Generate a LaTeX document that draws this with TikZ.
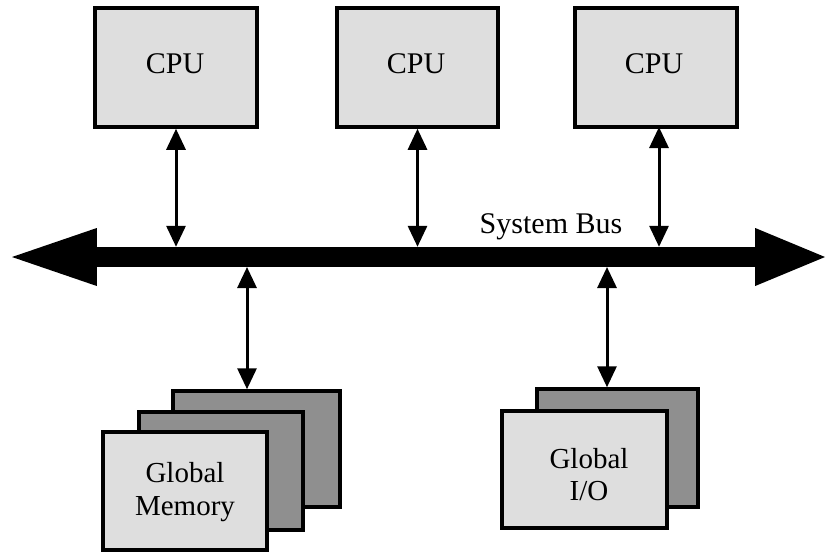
\documentclass[tikz,border=0pt]{standalone}
\usepackage{fontspec}
\setmainfont{Liberation Serif}
\usetikzlibrary{arrows.meta,fit}

\definecolor{lightfill}{gray}{0.87}
\definecolor{darkfill}{gray}{0.56}

\tikzset{
  box/.style={draw=black, line width=3.5pt, inner sep=0pt, fill=lightfill},
  backbox/.style={box, fill=darkfill},
  lbl/.style={anchor=base, inner sep=0pt, font=\fontsize{29}{31}\selectfont},
  biglbl/.style={lbl, font=\fontsize{30}{32}\selectfont},
  biarrow/.style={line width=3pt, {Triangle[length=21pt,width=19pt]}-{Triangle[length=21pt,width=19pt]}},
}

\begin{document}
\begin{tikzpicture}[x=1pt, y=-1pt]
  \useasboundingbox (0,0) rectangle (826,552);

  % processors
  \node[box, fit={(95,8) (257,127)}] (cpu1) {};
  \node[box, fit={(337,8) (498,127)}] (cpu2) {};
  \node[box, fit={(575,8) (737,127)}] (cpu3) {};
  \node[biglbl] (cpu1t) at (175,73) {CPU};
  \node[biglbl] (cpu2t) at (416,73) {CPU};
  \node[biglbl] (cpu3t) at (654,73) {CPU};

  % system bus: thick shaft with two big heads
  \node[fit={(97,247) (755,267)}, inner sep=0pt, fill=black] (bus) {};
  \fill[black] (bus.west) ++(0,-29) -- ++(0,58) -- (12,257) -- cycle;
  \fill[black] (bus.east) ++(0,-29) -- ++(0,58) -- (825,257) -- cycle;
  \node[biglbl] (bustext) at (551,233) {System Bus};

  % global memory stack
  \node[backbox, fit={(173,391) (340,507)}] (mem3) {};
  \node[backbox, fit={(139,412) (303,530)}] (mem2) {};
  \node[box, fit={(103,432) (267,550)}] (mem1) {};
  \node[lbl] (memt1) at (185,482) {Global};
  \node[lbl] (memt2) at (185,515) {Memory};

  % global I/O stack
  \node[backbox, fit={(537,389) (698,507)}] (io2) {};
  \node[box, fit={(502,411) (667,528)}] (io1) {};
  \node[lbl] (iot1) at (589,468) {Global};
  \node[lbl] (iot2) at (589,500) {I/O};

  % bus taps
  \coordinate (memtap) at (247,267);
  \coordinate (iotap) at (607,267);
  \coordinate (cpu3tap) at (659,127);

  \draw[biarrow] (cpu1.south) -- (cpu1.south |- bus.north);
  \draw[biarrow] (cpu2.south) -- (cpu2.south |- bus.north);
  \draw[biarrow] (cpu3tap) -- (cpu3tap |- bus.north);
  \draw[biarrow] (memtap) -- (memtap |- mem3.north);
  \draw[biarrow] (iotap) -- (iotap |- io2.north);
\end{tikzpicture}
\end{document}
